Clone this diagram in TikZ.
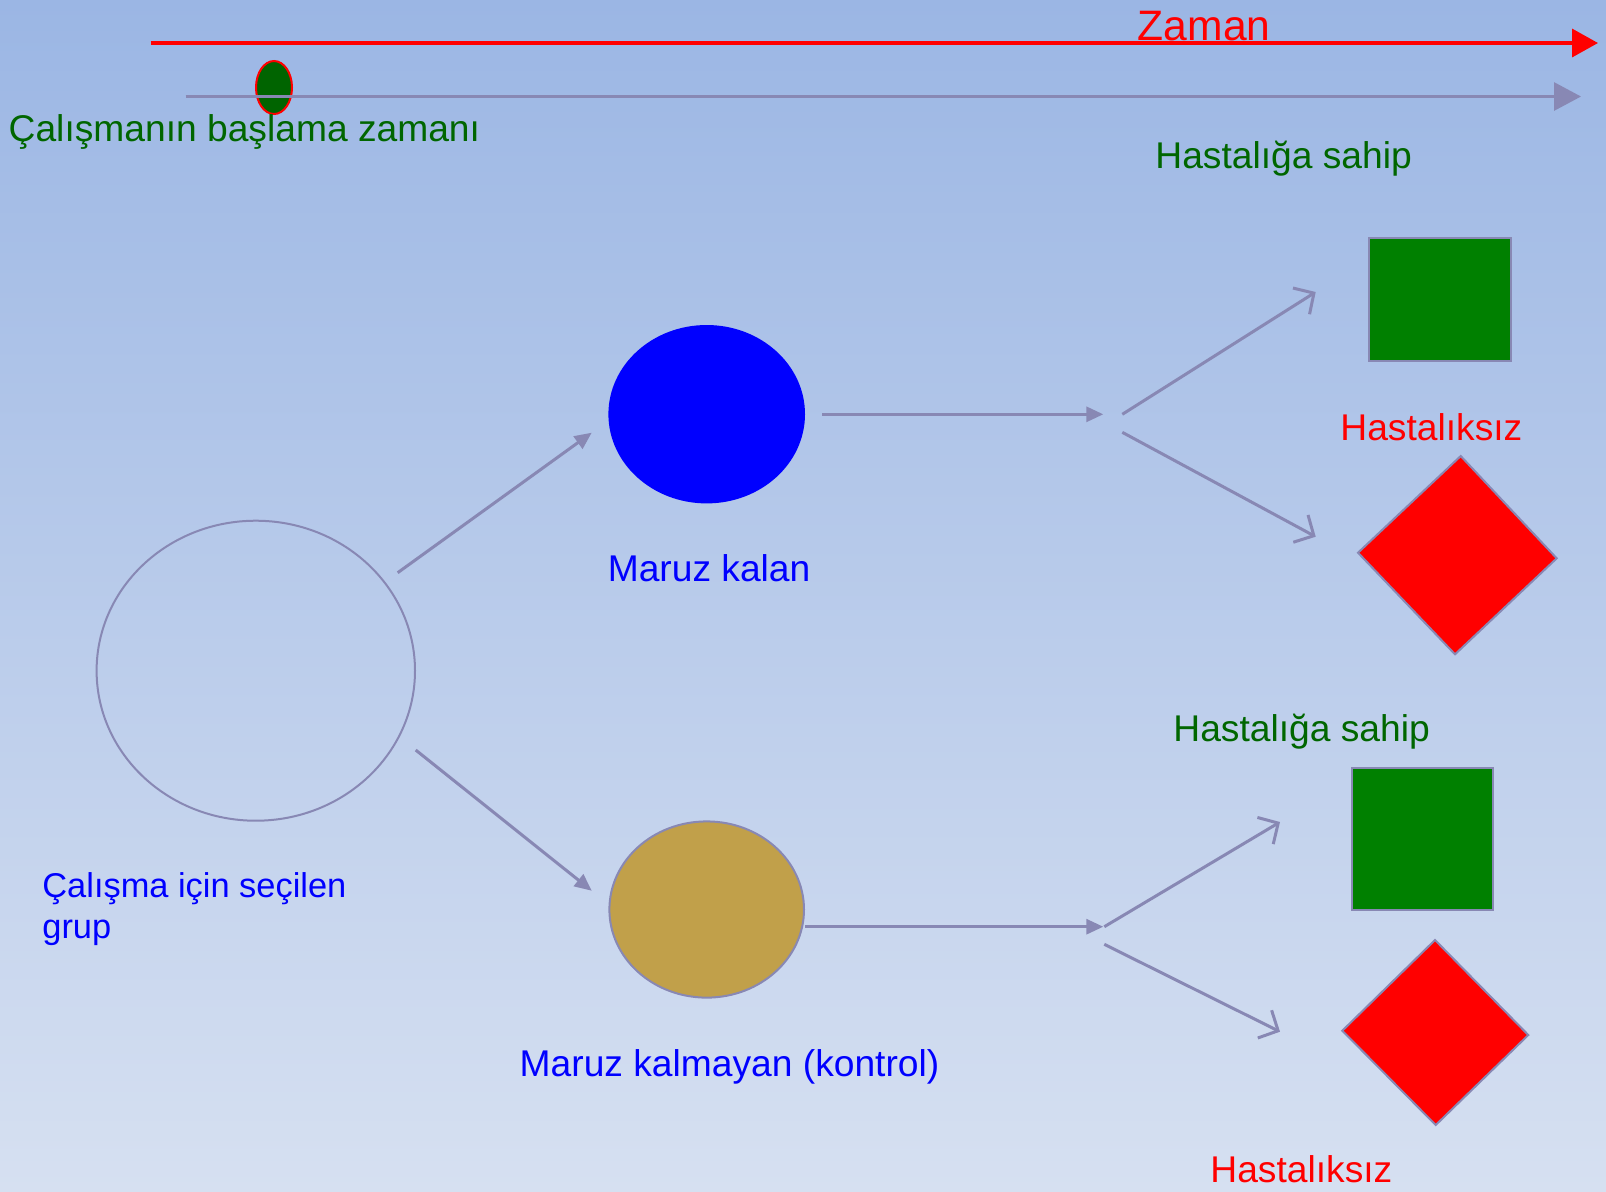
\documentclass[tikz,border=0pt]{standalone}
\usepackage{fontspec}
\setmainfont{Liberation Sans}
\usetikzlibrary{arrows.meta,shapes.geometric}
\definecolor{bgtop}{RGB}{155,182,228}
\definecolor{bgbot}{RGB}{214,224,241}
\definecolor{lineg}{RGB}{136,136,180}
\definecolor{txtgreen}{RGB}{0,102,0}
\definecolor{sqgreen}{RGB}{0,128,0}
\definecolor{dotgreen}{RGB}{0,100,0}
\definecolor{tanfill}{RGB}{193,160,74}
\begin{document}
\begin{tikzpicture}[x=0.5pt,y=-0.5pt,
  lbl/.style={inner sep=0pt, anchor=base west, font=\fontsize{18.6pt}{20.5pt}\selectfont},
  conn/.style={draw=lineg, line width=1.5pt, -{Triangle[length=8.5pt,width=7.5pt]}},
  branch/.style={draw=lineg, line width=1.5pt, -{Straight Barb[length=7.5pt,width=15.5pt]}},
  shapeline/.style={draw=lineg, line width=1pt},
  diam/.style={shapeline, fill=red}]
\fill[top color=bgtop,bottom color=bgbot] (0,0) rectangle (1606,1191);
\useasboundingbox (0,0) rectangle (1606,1191);

% time lines
\coordinate (r0) at (150.6,43);
\coordinate (r1) at (1598,43);
\draw[red, line width=1.75pt, -{Triangle[length=13pt,width=14pt]}] (r0) -- (r1);
\node[draw=red, fill=dotgreen, line width=1pt, ellipse, minimum width=18pt, minimum height=26.5pt, inner sep=0pt] (dot) at (274,87.5) {};
\coordinate (g0) at (185.7,96.5);
\coordinate (g1) at (1581,96.5);
\draw[draw=lineg, line width=1.5pt, -{Triangle[length=13.5pt,width=14pt]}] (g0) -- (g1);

% shapes
\node[shapeline, ellipse, minimum width=159.2pt, minimum height=150pt, inner sep=0pt] (grp) at (255.8,670.7) {};
\node[fill=blue, ellipse, minimum width=98.3pt, minimum height=89.2pt, inner sep=0pt] (expo) at (706.7,414.2) {};
\node[shapeline, fill=tanfill, ellipse, minimum width=97.3pt, minimum height=88.1pt, inner sep=0pt] (ctrl) at (706.7,909.5) {};
\node[shapeline, fill=sqgreen, rectangle, minimum width=70.8pt, minimum height=61.7pt, inner sep=0pt] (sq1) at (1439.9,299.7) {};
\node[shapeline, fill=sqgreen, rectangle, minimum width=70.7pt, minimum height=70.7pt, inner sep=0pt] (sq2) at (1422.6,838.8) {};
\filldraw[diam] (1460.7,456) -- (1556.7,558.3) -- (1455,654.3) -- (1358,552.7) -- cycle;
\filldraw[diam] (1435,940) -- (1528.3,1035) -- (1435.7,1125) -- (1342.3,1030.7) -- cycle;

% connectors
\coordinate (c1s) at (397.7,572.7); \coordinate (c1e) at (591.7,432.7);
\coordinate (c2s) at (415.7,750);   \coordinate (c2e) at (591.7,890.7);
\coordinate (h1s) at (822.4,414.3); \coordinate (h1e) at (1103.3,414.3);
\coordinate (b1s) at (1122.3,414.3); \coordinate (b1e) at (1315.7,292);
\coordinate (b2s) at (1122.3,432.3); \coordinate (b2e) at (1315.7,536.7);
\coordinate (h2s) at (805,926.7);   \coordinate (h2e) at (1103.3,926.7);
\coordinate (b3s) at (1104.3,926.7); \coordinate (b3e) at (1280,822);
\coordinate (b4s) at (1104.3,944.3); \coordinate (b4e) at (1280,1031.7);
\draw[conn] (c1s) -- (c1e);
\draw[conn] (c2s) -- (c2e);
\draw[conn] (h1s) -- (h1e);
\draw[conn] (h2s) -- (h2e);
\draw[branch] (b1s) -- (b1e);
\draw[branch] (b2s) -- (b2e);
\draw[branch] (b3s) -- (b3e);
\draw[branch] (b4s) -- (b4e);

% labels
\node[lbl, text=red, font=\fontsize{21.3pt}{23pt}\selectfont] (tzaman) at (1137.5,40) {Zaman};
\node[lbl, text=txtgreen] (tstart) at (8.3,141) {Çalışmanın başlama zamanı};
\node[lbl, text=txtgreen] (tsahip1) at (1155,168) {Hastalığa sahip};
\node[lbl, text=red] (tsiz1) at (1340,440.4) {Hastalıksız};
\node[lbl, text=blue] (tmaruz) at (607.4,581.7) {Maruz kalan};
\node[lbl, text=txtgreen] (tsahip2) at (1173,741.5) {Hastalığa sahip};
\node[lbl, text=blue, align=left, font=\fontsize{17.2pt}{20.5pt}\selectfont] (tgrup) at (42,938) {Çalışma için seçilen\\grup};
\node[lbl, text=blue] (tkontrol) at (519.3,1076.4) {Maruz kalmayan (kontrol)};
\node[lbl, text=red] (tsiz2) at (1210,1182.7) {Hastalıksız};
\end{tikzpicture}
\end{document}
